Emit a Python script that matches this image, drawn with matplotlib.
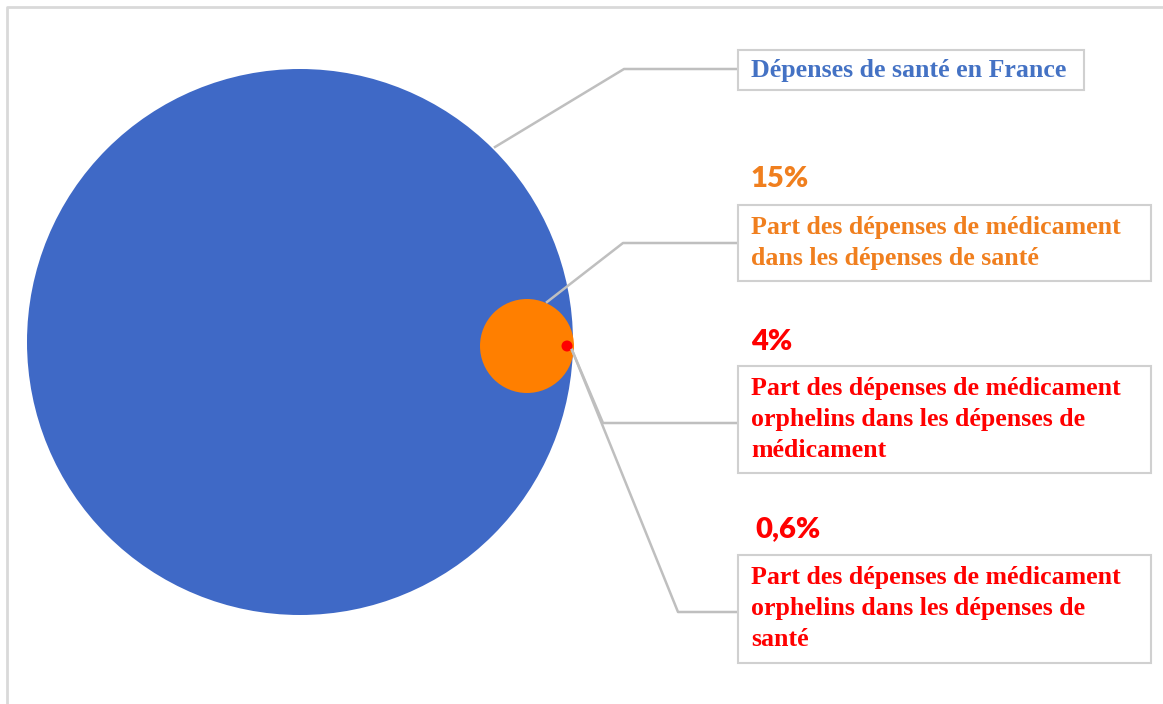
import matplotlib.pyplot as plt
from matplotlib.patches import Circle, Rectangle

# data
labels = ["Dépenses de santé en France",
          "Part des dépenses de médicament\ndans les dépenses de santé",
          "Part des dépenses de médicament\norphelins dans les dépenses de\nmédicament",
          "Part des dépenses de médicament\norphelins dans les dépenses de\nsanté"]
percents = [None, "15%", "4%", "0,6%"]
text_colors = ["#4472C4", "#F07F1E", "#FF0000", "#FF0000"]

# layout (pixel coords, y downwards)
circles = [((300, 342), 273, "#3F69C6"), ((527, 346), 47, "#FF7F00"), ((567, 346), 5.5, "#FF0000")]
boxes = [(738, 50, 346, 40), (738, 205, 413, 76), (738, 366, 413, 107), (738, 555, 413, 108)]
text_pad = [9, 11, 11, 11]
pct_pos = [None, (751, 179), (751, 342), (755, 529)]
leaders = [[(495, 147), (624, 69), (738, 69)],
           [(547, 302), (623, 243), (738, 243)],
           [(572, 350), (603, 423), (738, 423)],
           [(572, 350), (678, 612), (738, 612)]]

fig = plt.figure(figsize=(11.63, 7.04), dpi=100)
ax = fig.add_axes([0, 0, 1, 1])
ax.set_xlim(0, 1163)
ax.set_ylim(704, 0)
ax.axis('off')

# frame (only top and left visible)
ax.plot([7, 7, 1163], [704, 7, 7], color="#D9D9D9", lw=2, solid_capstyle='butt')

for (c, r, col) in circles:
	ax.add_patch(Circle(c, r, color=col, ec='none', zorder=2))

for pts in leaders:
	ax.plot([p[0] for p in pts], [p[1] for p in pts], color="#BFBFBF", lw=1.8, zorder=3)

for i, (x, y, w, h) in enumerate(boxes):
	ax.add_patch(Rectangle((x, y), w, h, fc='white', ec="#D0D0D0", lw=1.5, zorder=4))
	ax.text(x + 13, y + text_pad[i], labels[i], color=text_colors[i], family="Liberation Serif",
		fontweight='bold', fontsize=18.6, va='top', ha='left', linespacing=1.45, zorder=5)
	if percents[i] is not None:
		ax.text(pct_pos[i][0], pct_pos[i][1], percents[i], color=text_colors[i], family="Lato",
			fontweight='heavy', fontsize=21, va='center', ha='left', zorder=5)

fig.savefig("out.png", dpi=100)
